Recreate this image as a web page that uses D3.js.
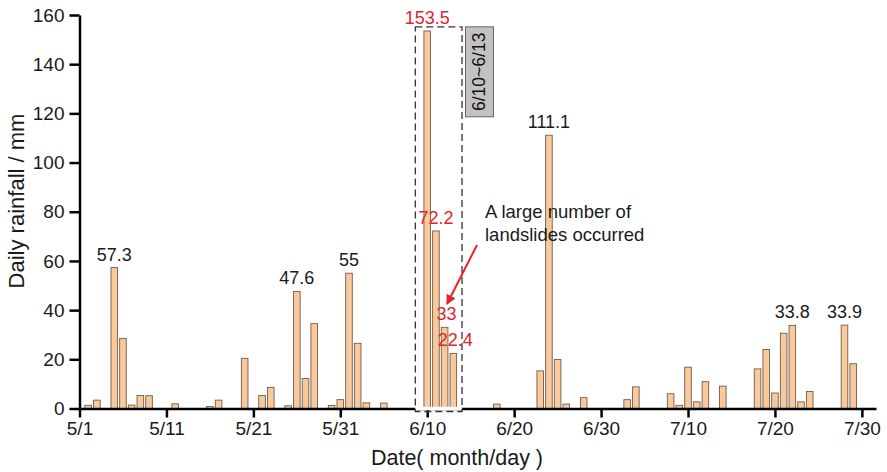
<!DOCTYPE html>
<html>
<head>
<meta charset="utf-8">
<script src="https://cdn.jsdelivr.net/npm/d3@7"></script>
<style>
    html, body { margin: 0; padding: 0; background: #fff; }
    svg { display: block; font-family: 'Liberation Sans', Arial, sans-serif; }
</style>
</head>
<body>
<div id="chart"></div>
<script>
// daily rainfall (mm), only days with rain
const dates = ['5/2', '5/3', '5/5', '5/6', '5/7', '5/8', '5/9', '5/12', '5/16', '5/17',
    '5/20', '5/22', '5/23', '5/25', '5/26', '5/27', '5/28', '5/30', '5/31', '6/1',
    '6/2', '6/3', '6/5', '6/10', '6/11', '6/12', '6/13', '6/18', '6/23', '6/24',
    '6/25', '6/26', '6/28', '7/3', '7/4', '7/8', '7/9', '7/10', '7/11', '7/12',
    '7/14', '7/18', '7/19', '7/20', '7/21', '7/22', '7/23', '7/24', '7/28', '7/29'];
const rainfall = [1.3, 3.4, 57.3, 28.5, 1.4, 5.3, 5.2, 1.9, 0.8, 3.4,
    20.4, 5.3, 8.6, 1.1, 47.6, 12.2, 34.5, 1.2, 3.6, 55,
    26.5, 2.3, 2.2, 153.5, 72.2, 33, 22.4, 1.8, 15.3, 111.1,
    19.9, 1.8, 4.4, 3.6, 8.8, 6.0, 1.3, 16.8, 2.7, 10.9,
    9.1, 16.1, 24.0, 6.3, 30.6, 33.8, 2.7, 6.9, 33.9, 18.2];

const peakLabels = ['5/5', '5/26', '6/1', '6/24', '7/22', '7/28'];
const eventLabels = ['6/10', '6/11', '6/12', '6/13'];
const eventRange = ['6/10', '6/13'];

const xTickLabels = ['5/1', '5/11', '5/21', '5/31', '6/10', '6/20', '6/30', '7/10', '7/20', '7/30'];
const yTicks = [0, 20, 40, 60, 80, 100, 120, 140, 160];

const YEAR = 2021;
const parseDay = (label) => {
    const [month, day] = label.split('/').map(Number);
    return new Date(YEAR, month - 1, day);
};

const width = 887;
const height = 472;
const barColor = '#f9c99c';
const barStroke = '#6e5d50';
const red = '#e3242b';

const data = dates.map((label, i) => ({ label, date: parseDay(label), value: rainfall[i] }));

const svg = d3.select('#chart').append('svg')
    .attr('width', width)
    .attr('height', height);

const xScale = d3.scaleTime()
    .domain([new Date(YEAR, 4, 1), new Date(YEAR, 6, 31, 15)])
    .range([79.5, 876]);

const yScale = d3.scaleLinear()
    .domain([0, 160])
    .range([408.5, 15]);

const dayWidth = xScale(new Date(YEAR, 4, 2)) - xScale(new Date(YEAR, 4, 1));
const barWidth = dayWidth * 0.76;

// bars
svg.append('g')
    .selectAll('rect')
    .data(data)
    .join('rect')
    .attr('x', (d) => xScale(d.date) - barWidth / 2)
    .attr('y', (d) => yScale(d.value))
    .attr('width', barWidth)
    .attr('height', (d) => yScale(0) - yScale(d.value))
    .attr('fill', barColor)
    .attr('stroke', barStroke)
    .attr('stroke-width', 0.9);

// axes
const xAxis = svg.append('g')
    .attr('transform', `translate(0,${yScale(0)})`)
    .call(d3.axisBottom(xScale)
        .tickValues(xTickLabels.map(parseDay))
        .tickFormat((d, i) => xTickLabels[i])
        .tickSize(9)
        .tickSizeOuter(0)
        .tickPadding(4));

const yAxis = svg.append('g')
    .attr('transform', `translate(${xScale.range()[0]},0)`)
    .call(d3.axisLeft(yScale)
        .tickValues(yTicks)
        .tickSize(10)
        .tickSizeOuter(0)
        .tickPadding(5));

[xAxis, yAxis].forEach((axis) => {
    axis.select('.domain').attr('stroke', '#000').attr('stroke-width', 2.5);
    axis.selectAll('.tick line').attr('stroke', '#000').attr('stroke-width', 2.5);
    axis.selectAll('.tick text')
        .attr('fill', '#1a1a1a')
        .attr('font-size', 19)
        .attr('font-family', "'Liberation Sans', Arial, sans-serif");
});

// axis titles
svg.append('text')
    .attr('x', 457)
    .attr('y', 465)
    .attr('text-anchor', 'middle')
    .attr('font-size', 21.5)
    .attr('fill', '#1a1a1a')
    .text('Date( month/day )');

svg.append('text')
    .attr('transform', 'translate(24,201) rotate(-90)')
    .attr('text-anchor', 'middle')
    .attr('font-size', 22)
    .attr('fill', '#1a1a1a')
    .text('Daily rainfall / mm');

// value labels
const labelled = data.filter((d) => peakLabels.includes(d.label) || eventLabels.includes(d.label));
svg.append('g')
    .selectAll('text')
    .data(labelled)
    .join('text')
    .attr('x', (d) => xScale(d.date) + (eventLabels.includes(d.label) && d.value < 40 ? 2 : 0))
    .attr('y', (d) => yScale(d.value) - 7)
    .attr('text-anchor', 'middle')
    .attr('font-size', 18)
    .attr('fill', (d) => (eventLabels.includes(d.label) ? red : '#1a1a1a'))
    .text((d) => String(d.value));

// dashed box around the event days
const boxLeft = xScale(parseDay(eventRange[0])) - dayWidth * 1.37;
const boxRight = xScale(parseDay(eventRange[1])) + dayWidth;
const boxTop = yScale(155.2);
const boxBottom = yScale(0) + 3;

svg.append('line')
    .attr('x1', boxLeft)
    .attr('x2', boxRight)
    .attr('y1', yScale(0))
    .attr('y2', yScale(0))
    .attr('stroke', '#fff')
    .attr('stroke-width', 3.5);

svg.append('rect')
    .attr('x', boxLeft)
    .attr('y', boxTop)
    .attr('width', boxRight - boxLeft)
    .attr('height', boxBottom - boxTop)
    .attr('fill', 'none')
    .attr('stroke', '#333')
    .attr('stroke-width', 1.3)
    .attr('stroke-dasharray', '7,4');

// grey period tag
const tagX = boxRight + 3.5;
const tagW = 28;
const tagH = 90;
svg.append('rect')
    .attr('x', tagX)
    .attr('y', boxTop)
    .attr('width', tagW)
    .attr('height', tagH)
    .attr('fill', '#c2c2c2')
    .attr('stroke', '#666')
    .attr('stroke-width', 1);

svg.append('text')
    .attr('transform', `translate(${tagX + tagW / 2 + 6},${boxTop + tagH / 2}) rotate(-90)`)
    .attr('text-anchor', 'middle')
    .attr('font-size', 17.5)
    .attr('fill', '#111')
    .text(`${eventRange[0]}~${eventRange[1]}`);

// landslide note and arrow
svg.append('defs').append('marker')
    .attr('id', 'arrow')
    .attr('viewBox', '0 0 10 10')
    .attr('refX', 9)
    .attr('refY', 5)
    .attr('markerWidth', 5)
    .attr('markerHeight', 5)
    .attr('orient', 'auto')
    .append('path')
    .attr('d', 'M0,0 L10,5 L0,10 Z')
    .attr('fill', red);

svg.append('line')
    .attr('x1', 477)
    .attr('y1', 245)
    .attr('x2', 447)
    .attr('y2', 304)
    .attr('stroke', red)
    .attr('stroke-width', 2)
    .attr('marker-end', 'url(#arrow)');

const note = svg.append('text')
    .attr('x', 485)
    .attr('font-size', 18.5)
    .attr('fill', '#1a1a1a');
note.append('tspan').attr('x', 485).attr('y', 218).text('A large number of');
note.append('tspan').attr('x', 485).attr('y', 241).text('landslides occurred');
</script>
</body>
</html>
